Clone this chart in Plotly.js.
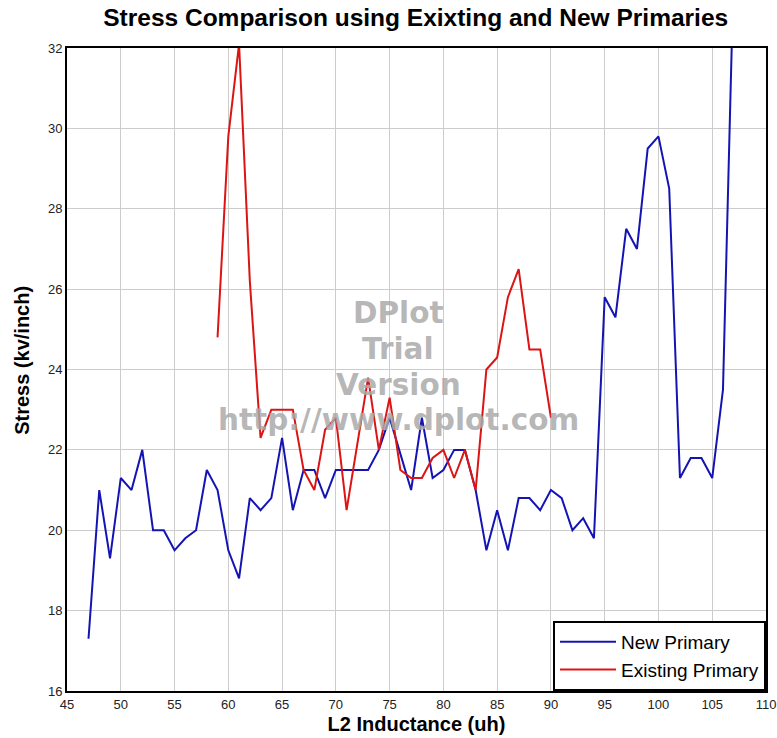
<!DOCTYPE html>
<html>
<head>
<meta charset="utf-8">
<script src="https://cdn.plot.ly/plotly-3.0.1.min.js"></script>
<style>html,body{margin:0;padding:0;background:#fff;}#chart{width:777px;height:738px;}</style>
</head>
<body>
<div id="chart"></div>
<script>
const newX = [47,48,49,50,51,52,53,54,55,56,57,58,59,60,61,62,63,64,65,66,67,68,69,70,71,72,73,74,75,76,77,78,79,80,81,82,83,84,85,86,87,88,89,90,91,92,93,94,95,96,97,98,99,100,101,102,103,104,105,106,107];
const newY = [17.3,21.0,19.3,21.3,21.0,22.0,20.0,20.0,19.5,19.8,20.0,21.5,21.0,19.5,18.8,20.8,20.5,20.8,22.3,20.5,21.5,21.5,20.8,21.5,21.5,21.5,21.5,22.0,22.8,21.9,21.0,22.8,21.3,21.5,22.0,22.0,21.0,19.5,20.5,19.5,20.8,20.8,20.5,21.0,20.8,20.0,20.3,19.8,25.8,25.3,27.5,27.0,29.5,29.8,28.5,21.3,21.8,21.8,21.3,23.5,34.0];
const exX = [59,60,61,62,63,64,65,66,67,68,69,70,71,72,73,74,75,76,77,78,79,80,81,82,83,84,85,86,87,88,89,90];
const exY = [24.8,29.8,32.1,26.2,22.3,23.0,23.0,23.0,21.5,21.0,22.5,22.8,20.5,22.2,23.8,22.0,23.3,21.5,21.3,21.3,21.8,22.0,21.3,22.0,21.0,24.0,24.3,25.8,26.5,24.5,24.5,22.8];
const seriesNames = ["New Primary", "Existing Primary"];
const xTicks = [45,50,55,60,65,70,75,80,85,90,95,100,105,110];
const yTicks = [16,18,20,22,24,26,28,30,32];

const traces = [
  {x: newX, y: newY, name: seriesNames[0], type: 'scatter', mode: 'lines', line: {color: '#1414b4', width: 2}},
  {x: exX, y: exY, name: seriesNames[1], type: 'scatter', mode: 'lines', line: {color: '#dc1414', width: 2}}
];

const wm = {family: 'DejaVu Sans, sans-serif', size: 29.5, color: 'rgba(170,170,170,0.85)'};
const layout = {
  width: 777, height: 738,
  margin: {l: 67, r: 11, t: 48, b: 47},
  paper_bgcolor: '#fff', plot_bgcolor: '#fff',
  font: {family: 'Liberation Sans, Arial, sans-serif', color: '#222'},
  title: {text: '<b>Stress Comparison using Exixting and New Primaries</b>', x: 0.535, xanchor: 'center', y: 0.976, yanchor: 'middle', font: {size: 24.5, color: '#000'}},
  xaxis: {
    range: [45, 110], tickvals: xTicks, ticktext: xTicks.map(String),
    showgrid: true, gridcolor: '#cccccc', gridwidth: 1, zeroline: false,
    showline: true, linecolor: '#000', linewidth: 2, mirror: true,
    ticks: '', tickfont: {size: 13, color: '#222'},
    title: {text: '<b>L2 Inductance (uh)</b>', font: {size: 20, color: '#000'}, standoff: 6}
  },
  yaxis: {
    range: [16, 32], tickvals: yTicks, ticktext: yTicks.map(String),
    showgrid: true, gridcolor: '#cccccc', gridwidth: 1, zeroline: false,
    showline: true, linecolor: '#000', linewidth: 2, mirror: true,
    ticks: '', tickfont: {size: 13, color: '#222'}
  },
  showlegend: true,
  legend: {x: 1, xanchor: 'right', y: 0.0, yanchor: 'bottom', bgcolor: '#fff', bordercolor: '#000', borderwidth: 2, font: {size: 19, color: '#000'}, itemwidth: 56, tracegroupgap: 0},
  annotations: [
    {text: '<b>Stress (kv/inch)</b>', x: -0.0644, y: 0.515, xref: 'paper', yref: 'paper', xanchor: 'center', yanchor: 'middle', textangle: -90, showarrow: false, font: {size: 20, color: '#000'}},
    {text: '<b>DPlot</b>', x: 0.474, y: 0.588, xref: 'paper', yref: 'paper', showarrow: false, font: wm},
    {text: '<b>Trial</b>', x: 0.474, y: 0.532, xref: 'paper', yref: 'paper', showarrow: false, font: wm},
    {text: '<b>Version</b>', x: 0.474, y: 0.476, xref: 'paper', yref: 'paper', showarrow: false, font: wm},
    {text: '<b>http://www.dplot.com</b>', x: 0.474, y: 0.421, xref: 'paper', yref: 'paper', showarrow: false, font: wm}
  ]
};
Plotly.newPlot('chart', traces, layout, {displayModeBar: false, staticPlot: true});
</script>
</body>
</html>
